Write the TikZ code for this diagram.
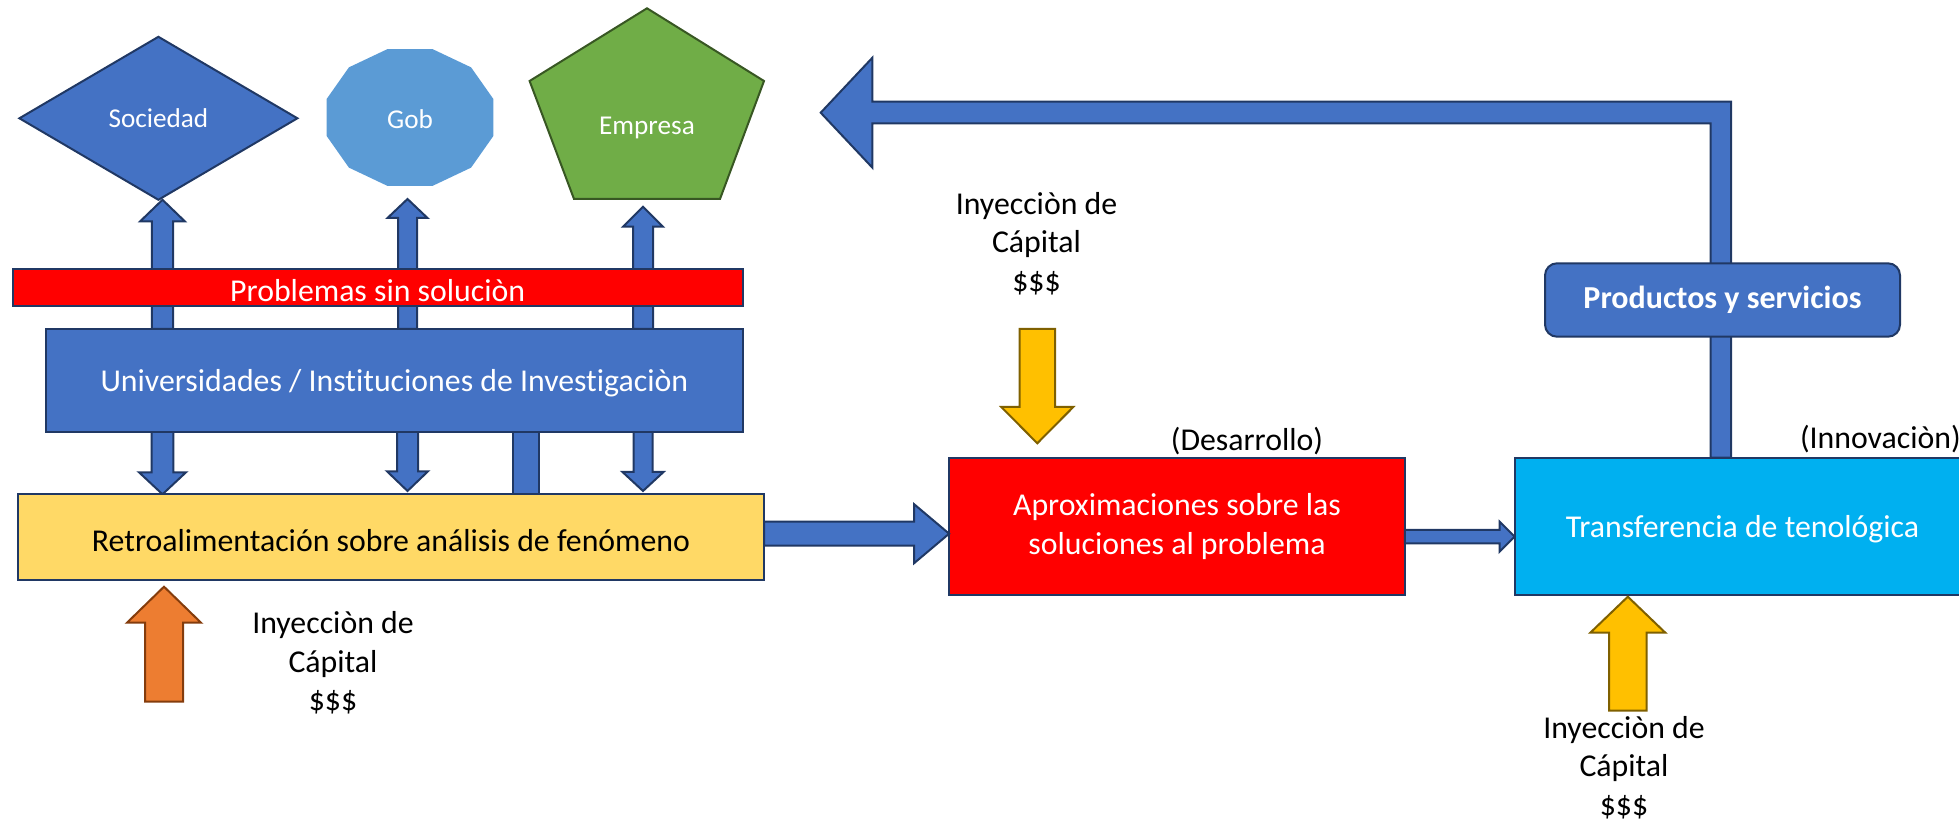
\documentclass[tikz,border=0pt]{standalone}
\usepackage{fontspec}
\setmainfont[Ligatures={NoCommon}]{Carlito}
\usetikzlibrary{shapes.geometric,calc,backgrounds}
\definecolor{bl}{HTML}{4472C4}
\definecolor{navy}{HTML}{203864}
\definecolor{gobfill}{HTML}{5B9BD5}
\definecolor{grn}{HTML}{70AD47}
\definecolor{dgrn}{HTML}{385723}
\definecolor{ylw}{HTML}{FFD966}
\definecolor{org}{HTML}{ED7D31}
\definecolor{dorg}{HTML}{843C0C}
\definecolor{gold}{HTML}{FFC000}
\definecolor{dgold}{HTML}{7F6000}
\definecolor{cyn}{HTML}{00B0F0}
% vertical block arrow: style, base, tip, shaft half width, head half width, signed head length
\newcommand\vblock[6][]{%
  \draw[#1] ($(#2)+(-#4,0)$) -- ($(#3)+(-#4,#6)$) -- ($(#3)+(-#5,#6)$) -- (#3)
    -- ($(#3)+(#5,#6)$) -- ($(#3)+(#4,#6)$) -- ($(#2)+(#4,0)$) -- cycle;}
% horizontal (rightward) block arrow
\newcommand\hblock[6][]{%
  \draw[#1] ($(#2)+(0,-#4)$) -- ($(#3)+(-#6,-#4)$) -- ($(#3)+(-#6,-#5)$) -- (#3)
    -- ($(#3)+(-#6,#5)$) -- ($(#3)+(-#6,#4)$) -- ($(#2)+(0,#4)$) -- cycle;}
% lower a one-line text a little while keeping its box
\newcommand\lowtxt[1]{\raisebox{-1.4pt}[\height][\depth]{#1}}
\begin{document}
\begin{tikzpicture}[x=0.5pt,y=-0.5pt,
  every node/.style={inner sep=0pt,outer sep=0pt},
  mainfont/.style={font=\fontsize{15.9}{19.3}\selectfont},
  shapefont/.style={font=\fontsize{13.6}{15}\selectfont},
  box/.style={rectangle,draw=navy,line width=1pt,mainfont},
  blk/.style={fill=bl,draw=navy,line width=1pt},
  goldarrow/.style={fill=gold,draw=dgold,line width=1pt},
  orgarrow/.style={fill=org,draw=dorg,line width=1pt}]
\useasboundingbox (0,0) rectangle (1959,822);

% top shapes
\node[diamond,fill=bl,draw=navy,line width=1pt,minimum width=139pt,minimum height=81.5pt,
      text=white,shapefont] (soc) at (158.4,118.3) {Sociedad};
\coordinate (gobc) at (410,117.5);
\fill[gobfill,shift={(gobc)}] plot[samples at={15,45,...,345}] ({86.4*cos(\x)},{70.9*sin(\x)}) -- cycle;
\node[text=white,shapefont] (gob) at (410,119) {Gob};
\coordinate (empc) at (647,128);
\draw[fill=grn,draw=dgrn,line width=1pt,shift={(empc)}]
  (0,-119.7) -- (117,-47) -- (73,71) -- (-73,71) -- (-117.4,-47) -- cycle;
\node[text=white,shapefont] (emp) at (empc) {Empresa};

% boxes
\node[box,fill=red,text=white,minimum width=365pt,minimum height=18.5pt] (prob) at (377.7,287.5) {\lowtxt{Problemas sin soluciòn}};
\node[box,fill=bl,text=white,minimum width=348.5pt,minimum height=51.5pt] (univ) at (394.3,380.5) {\lowtxt{Universidades / Instituciones de Investigaciòn}};
\node[box,fill=ylw,text=black,minimum width=373pt,minimum height=43pt] (retro) at (391,537.3) {\lowtxt{Retroalimentación sobre análisis de fenómeno}};
\node[box,fill=red,text=white,minimum width=227.9pt,minimum height=68.7pt,align=center] (aprox) at (1177,526.4) {Aproximaciones sobre las\\soluciones al problema};
\node[box,fill=cyn,text=white,minimum width=227.9pt,minimum height=68.7pt] (trans) at (1742.5,526.4) {\lowtxt{Transferencia de tenológica}};
\node[box,fill=bl,text=white,rounded corners=6pt,minimum width=177.5pt,minimum height=36.7pt,
      font=\fontsize{16}{19}\selectfont\bfseries] (prod) at (1722.5,300) {Productos y servicios};

% labels
\node[mainfont,align=center] (inj1) at (333,663) {Inyecciòn de\\Cápital\\\$\$\$};
\node[mainfont,align=center] (inj2) at (1036.5,243.5) {Inyecciòn de\\Cápital\\\$\$\$};
\node[mainfont,align=center] (inj3) at (1624,767.5) {Inyecciòn de\\Cápital\\\$\$\$};
\node[mainfont] (des) at (1247,440.7) {(Desarrollo)};
\node[mainfont,anchor=west] (inn) at (1800,439) {(Innovaciòn)};

% arrow coordinates
\coordinate (xa) at (162.5,0);
\coordinate (xb) at (407.5,0);
\coordinate (xc) at (643,0);
\coordinate (xd) at (526,0);
\coordinate (a1b) at (xa |- univ.north); \coordinate (a1t) at (xa |- soc.south);
\coordinate (a2b) at (xb |- univ.north); \coordinate (a2t) at (407.5,199);
\coordinate (a3b) at (xc |- univ.north); \coordinate (a3t) at (643,206.7);
\coordinate (d1b) at (xa |- univ.south); \coordinate (d1t) at (xa |- retro.north);
\coordinate (d2b) at (xb |- univ.south); \coordinate (d2t) at (407.5,491);
\coordinate (d3b) at (xc |- univ.south); \coordinate (d3t) at (643,491);
\coordinate (r1b) at (retro.east |- 0,533.7); \coordinate (r1t) at (aprox.west |- 0,533.7);
\coordinate (r2b) at (aprox.east |- 0,536.7); \coordinate (r2t) at (trans.west |- 0,536.7);
\coordinate (g1b) at (1037.3,329); \coordinate (g1t) at (1037.3,443.3);
\coordinate (o1b) at (164,701.7); \coordinate (o1t) at (164,586.7);
\coordinate (g2b) at (1627.8,710.7); \coordinate (g2t) at (1627.8,596.7);
\coordinate (bx) at (1720.8,0);
\coordinate (btb) at (bx |- trans.north);
\coordinate (btt) at (820.7,112.7);

\begin{pgfonlayer}{background}
\vblock[blk]{a1b}{a1t}{10.7}{22.5}{21.7}
\vblock[blk]{a2b}{a2t}{9.5}{20}{19}
\vblock[blk]{a3b}{a3t}{10}{20}{20}
\vblock[blk]{d1b}{d1t}{10.8}{23.5}{-22}
\vblock[blk]{d2b}{d2t}{10.5}{20.5}{-19.7}
\vblock[blk]{d3b}{d3t}{9.5}{20.5}{-19}
\draw[blk] ($(xd |- univ.south)+(-13,0)$) rectangle ($(xd |- retro.north)+(13,0)$);
\draw[blk] ($(btb)+(-10.2,0)$) -- (1710.6,123.3) -- (872.4,123.3) -- (872.4,167.7) -- (btt)
  -- (872.4,57.7) -- (872.4,101.7) -- (1731,101.7) -- ($(btb)+(10.2,0)$) -- cycle;
\end{pgfonlayer}
\hblock[blk]{r1b}{r1t}{12}{29.5}{35}
\hblock[blk]{r2b}{r2t}{6.7}{15}{15}
\vblock[goldarrow]{g1b}{g1t}{17.7}{36}{-36.3}
\vblock[orgarrow]{o1b}{o1t}{19}{37}{36}
\vblock[goldarrow]{g2b}{g2t}{18.8}{37.5}{36}
\end{tikzpicture}
\end{document}
